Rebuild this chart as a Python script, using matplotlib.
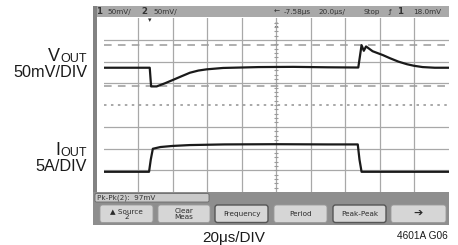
import matplotlib
matplotlib.use('Agg')
import matplotlib.pyplot as plt
from matplotlib.patches import Rectangle, FancyBboxPatch

plt.rcParams['lines.scale_dashes'] = False

# scope trace data, time in us (20us/DIV)
t_vout = [-100, -73.2, -72.4, -69.2, -64.5, -59.7, -55, -49.9, -45, -40.2, -30.7,
          -10, 10, 30, 47.7, 49.6, 50.9, 52.2, 56, 62, 66, 71, 76, 80, 85, 92, 100]
vout_mv = [0, 0, -43, -43, -36, -28, -20, -11.5, -6.5, -3.7, -0.5,
           1.5, 2, 1, 0.5, 52, 39, 49, 38, 29, 22, 14, 8, 4.5, 1.5, 0, 0]

t_iout = [-100, -73.6, -72.6, -71.4, -67, -60, -50, -30, 0, 30, 47.4, 48.4, 49.6, 100]
iout_a = [0, 0, 2.8, 5.3, 5.7, 5.95, 6.15, 6.3, 6.35, 6.3, 6.3, 2.8, 0, 0]

v_per_div = 50.0   # mV/DIV
i_per_div = 5.0    # A/DIV
v_ground = 1.72    # channel 1 ground, divisions from screen center
i_ground = -3.07   # channel 2 ground

x_divs = [-80, -60, -40, -20, 0, 20, 40, 60, 80]
y_divs = [-3, -2, -1, 1, 2, 3]

button_labels = ['\u25b2 Source\n2', 'Clear\nMeas', 'Frequency', 'Period', 'Peak-Peak', '\u2794']
button_left = [100, 158, 215, 274, 333, 391]
button_right = [153, 210, 268, 327, 386, 446]
button_selected = [False, False, True, False, True, False]

lab_font = ['Liberation Sans', 'DejaVu Sans']

W, H = 458, 245
fig = plt.figure(figsize=(W / 100, H / 100), dpi=100)

# background layer in pixel coordinates
bg = fig.add_axes([0, 0, 1, 1])
bg.set_xlim(0, W)
bg.set_ylim(H, 0)
bg.axis('off')

# header bar
bg.add_patch(Rectangle((93, 6.5), 356, 11, color='#a9a9a9', lw=0))
hdr = dict(fontsize=5.2, color='#333333', va='center', family='DejaVu Sans')
bg.text(96, 12, '1', fontsize=6.2, fontweight='bold', color='#333333', va='center')
bg.text(107, 12, '50mV/', **hdr)
bg.text(141, 12, '2', fontsize=6.2, fontweight='bold', color='#333333', va='center')
bg.text(153, 12, '50mV/', **hdr)
bg.text(274, 12, '\u2190', **hdr)
bg.text(284, 12, '-7.58\u03bcs', **hdr)
bg.text(318, 12, '20.0\u03bcs/', **hdr)
bg.text(364, 12, 'Stop', **hdr)
bg.text(389, 12, '\u0192', **hdr)
bg.text(397, 12, '1', fontsize=6.2, fontweight='bold', color='#333333', va='center')
bg.text(413, 12, '18.0mV', **hdr)

# left strip of the screen
bg.add_patch(Rectangle((93, 6.5), 4, 218.5, color='#828282', lw=0))

# bottom soft-key bar
bg.add_patch(Rectangle((93, 192), 356, 33, color='#8e8e8e', lw=0))
bg.add_patch(FancyBboxPatch((95, 193.5), 114, 8.5, boxstyle='round,pad=0,rounding_size=1.5',
                            fc='#cacaca', ec='#6a6a6a', lw=0.6))
bg.text(97, 198, 'Pk-Pk(2):  97mV', fontsize=5.2, color='#333333', va='center')
for lab, x0, x1, sel in zip(button_labels, button_left, button_right, button_selected):
    bg.add_patch(FancyBboxPatch((x0, 205), x1 - x0, 17.5, boxstyle='round,pad=0,rounding_size=2.5',
                                fc='#d6d6d6', ec='#555555' if sel else '#9a9a9a',
                                lw=1.0 if sel else 0.6))
    fs = 8 if lab == '\u2794' else 5.2
    bg.text((x0 + x1) / 2, 213.8, lab, fontsize=fs, color='#2a2a2a', ha='center', va='center',
            linespacing=0.9, fontweight='bold' if lab == '\u2794' else 'normal')

# trigger markers on top of the grid
bg.text(150, 20, '\u25be', fontsize=5, color='#333333', ha='center', va='center')
bg.text(276, 25, '\u2195', fontsize=6, color='#333333', ha='center', va='center')

# channel labels
bg.text(60, 61, 'V', fontsize=13, family=lab_font, ha='right', va='baseline', color='#1a1a1a')
bg.text(87, 61.8, 'OUT', fontsize=9, family=lab_font, ha='right', va='baseline', color='#1a1a1a')
bg.text(87, 77, '50mV/DIV', fontsize=11.7, family=lab_font, ha='right', va='baseline', color='#1a1a1a')
bg.text(60, 155, 'I', fontsize=13, family=lab_font, ha='right', va='baseline', color='#1a1a1a')
bg.text(87, 155.8, 'OUT', fontsize=9, family=lab_font, ha='right', va='baseline', color='#1a1a1a')
bg.text(87, 171, '5A/DIV', fontsize=11.7, family=lab_font, ha='right', va='baseline', color='#1a1a1a')
bg.text(234, 231, '20\u03bcs/DIV', fontsize=11, family=lab_font, ha='center', va='top', color='#1a1a1a')
bg.text(448, 236, '4601A G06', fontsize=7.3, family=lab_font, ha='right', va='center', color='#1a1a1a')

# scope graticule in time / division units
ax = fig.add_axes([103.5 / W, 1 - 192 / H, 345 / W, (192 - 18.2) / H])
ax.set_facecolor('none')
ax.set_xlim(-100, 100)
ax.set_ylim(-4, 4)
for s in ax.spines.values():
    s.set_visible(False)
ax.set_xticks([])
ax.set_yticks([])

for x in x_divs:
    ax.axvline(x, color='#a8a8a8', lw=0.9, zorder=1)
for y in y_divs:
    ax.axhline(y, color='#a8a8a8', lw=0.9, zorder=1)
ax.axhline(0, color='#9a9a9a', lw=1.2, ls=(0, (1.8, 3.2)), zorder=1)
minor = [k * 0.2 for k in range(-19, 20)]
ax.plot([0] * len(minor), minor, ls='none', marker='_', ms=3.5, mew=0.8, color='#9a9a9a', zorder=1)

# cursors at the VOUT extremes
v_max = v_ground + max(vout_mv) / v_per_div
v_min = v_ground + min(vout_mv) / v_per_div
for y in (v_max, v_min):
    ax.axhline(y, color='#9a9a9a', lw=1.1, ls=(0, (5.5, 4.5)), zorder=2)

v_div = [v_ground + v / v_per_div for v in vout_mv]
i_div = [i_ground + i / i_per_div for i in iout_a]
ax.plot(t_vout, v_div, color='#1a1a1a', lw=1.6, zorder=3)
ax.plot(t_iout, i_div, color='#1a1a1a', lw=1.6, zorder=3)

fig.savefig('out.png', dpi=100)
